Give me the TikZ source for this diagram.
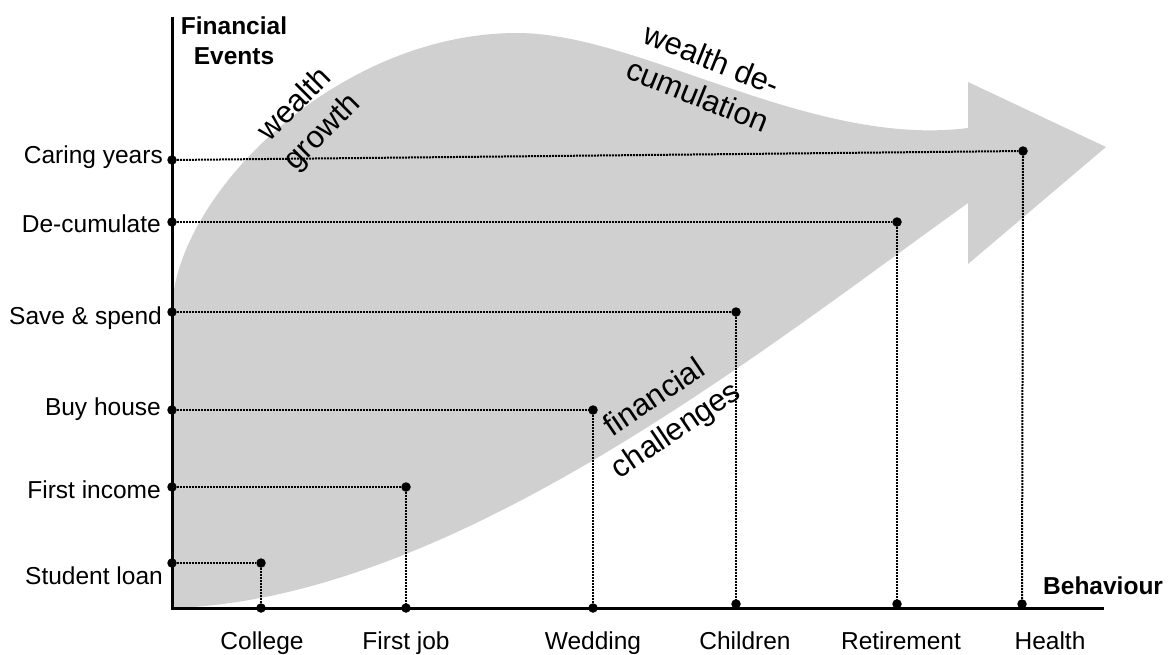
\documentclass[tikz,border=0pt]{standalone}
\usepackage{fontspec}
\setmainfont{Liberation Sans}
\definecolor{flow}{RGB}{208,208,208}
\begin{document}
\begin{tikzpicture}[x=1pt,y=-1pt,
  lbl/.style={font=\fontsize{24.5}{30}\selectfont, inner sep=0pt},
  hd/.style={font=\bfseries\fontsize{24.5}{30}\selectfont, inner sep=0pt, align=center},
  big/.style={font=\fontsize{31}{39}\selectfont, inner sep=0pt, align=center},
  guide/.style={line width=2pt, dash pattern=on 2pt off 1pt},
  axisline/.style={line width=3pt},
  dot/.style={circle, fill=black, inner sep=0pt, minimum size=9.5pt}]
\useasboundingbox (0,0) rectangle (1174,654);

% the grey flow arrow
\fill[flow] (172,608) .. controls (450,600) and (760,352) .. (968,203)
  -- (968,264) -- (1106,147) -- (968,82) -- (968,128)
  .. controls (810,148) and (640,33) .. (517,33)
  .. controls (340,33) and (180,190) .. (172,305) -- cycle;

% axes
\coordinate (top) at (172,17);
\coordinate (origin) at (172,608);
\coordinate (right) at (1104,608);
\draw[axisline] (top) -- (origin) -- (right);

% event points on the vertical axis
\node[dot] (eCare) at (172,160) {};
\node[dot] (eDec)  at (172,222) {};
\node[dot] (eSave) at (172,312) {};
\node[dot] (eHouse) at (172,410) {};
\node[dot] (eInc)  at (172,487) {};
\node[dot] (eLoan) at (172,563) {};

% life-stage points
\node[dot] (pCollege) at (261,563) {};
\node[dot] (pJob)     at (406,487) {};
\node[dot] (pWed)     at (593,410) {};
\node[dot] (pKids)    at (736,312) {};
\node[dot] (pRet)     at (897,222) {};
\node[dot] (pHealth)  at (1023,151) {};

% behaviour points on the horizontal axis
\node[dot] (bCollege) at (261,608) {};
\node[dot] (bJob)     at (406,608) {};
\node[dot] (bWed)     at (593,608) {};
\node[dot] (bKids)    at (736,604) {};
\node[dot] (bRet)     at (897,604) {};
\node[dot] (bHealth)  at (1022,604) {};

% guide lines
\draw[guide] (eLoan) -- (pCollege) -- (bCollege);
\draw[guide] (eInc) -- (pJob) -- (bJob);
\draw[guide] (eHouse) -- (pWed) -- (bWed);
\draw[guide] (eSave) -- (pKids) -- (bKids);
\draw[guide] (eDec) -- (pRet) -- (bRet);
\draw[guide] (eCare) -- (pHealth) -- (bHealth);

% axis titles
\node[hd] (ytitle) at (234,41) {Financial\\Events};
\node[hd, anchor=base west] (xtitle) at (1043,594) {Behaviour};

% event labels
\node[lbl, anchor=base east] (lCare)  at (163,163) {Caring years};
\node[lbl, anchor=base east] (lDec)   at (161,232) {De-cumulate};
\node[lbl, anchor=base east] (lSave)  at (162,324) {Save \& spend};
\node[lbl, anchor=base east] (lHouse) at (161,415) {Buy house};
\node[lbl, anchor=base east] (lInc)   at (161,498) {First income};
\node[lbl, anchor=base east] (lLoan)  at (163,584) {Student loan};

% behaviour labels
\node[lbl, anchor=base] (lCollege) at (262,649) {College};
\node[lbl, anchor=base] (lJob)     at (406,649) {First job};
\node[lbl, anchor=base] (lWed)     at (593,649) {Wedding};
\node[lbl, anchor=base] (lKids)    at (745,649) {Children};
\node[lbl, anchor=base] (lRet)     at (901,649) {Retirement};
\node[lbl, anchor=base] (lHealth)  at (1050,649) {Health};

% phases of the flow
\node[big, rotate=45]  (growth) at (309,119) {wealth\\growth};
\node[big, rotate=-22] (decum)  at (705,77)  {wealth de-\\cumulation};
\node[big, rotate=34]  (chall)  at (666,415) {financial\\challenges};
\end{tikzpicture}
\end{document}
